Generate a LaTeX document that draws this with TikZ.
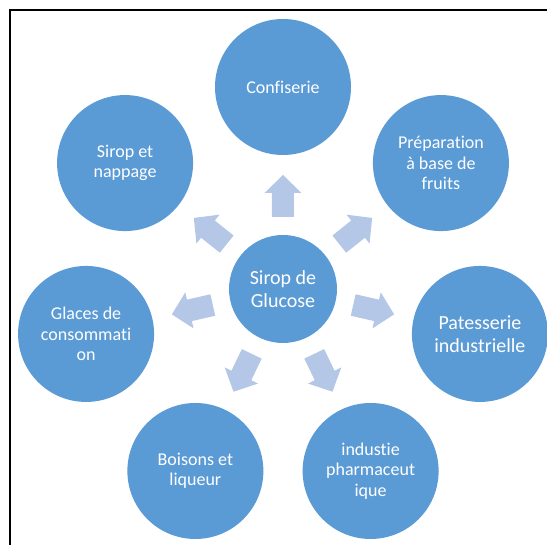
\documentclass[tikz,border=0pt]{standalone}
\usepackage{fontspec}
\setmainfont[Ligatures={NoCommon}]{Carlito}
\definecolor{circ}{HTML}{5B9BD5}
\definecolor{arr}{HTML}{B4C7E7}
\begin{document}
\begin{tikzpicture}[x=1pt,y=1pt,
  outer/.style={circle, fill=circ, minimum size=136pt, inner sep=0pt, text=white, align=center, font=\fontsize{18}{20.5}\selectfont},
  bigtext/.style={font=\fontsize{20}{23}\selectfont},
  hub/.style={circle, fill=circ, minimum size=108pt, inner sep=0pt, text=white, align=center, font=\fontsize{20}{22.5}\selectfont},
  blockarrow/.style={fill=arr}]
\useasboundingbox (-283,-256) rectangle (264,289);
\draw[line width=2pt] (-273,-260) -- (-273,279) -- (268,279);
\node[hub] (ctr) at (0,0) {Sirop de\\Glucose};
\node[outer] (c0) at (90:202) {Confiserie};
\node[outer] (c1) at (38.57:202) {Préparation\\à base de\\fruits};
\node[outer,bigtext] (c2) at (-12.86:202) {Patesserie\\industrielle};
\node[outer] (c3) at (-64.29:202) {industie\\pharmaceut\\ique};
\node[outer] (c4) at (-115.71:202) {Boisons et\\liqueur};
\node[outer] (c5) at (-167.14:202) {Glaces de\\consommati\\on};
\node[outer] (c6) at (141.43:202) {Sirop et\\nappage};
\foreach \a in {90,38.57,-12.86,-64.29,-115.71,-167.14,141.43}
  \fill[blockarrow, shift={(ctr)}, rotate=\a] (72,-11) -- (96,-11) -- (96,-18.5) -- (114,0) -- (96,18.5) -- (96,11) -- (72,11) -- cycle;
\end{tikzpicture}
\end{document}
